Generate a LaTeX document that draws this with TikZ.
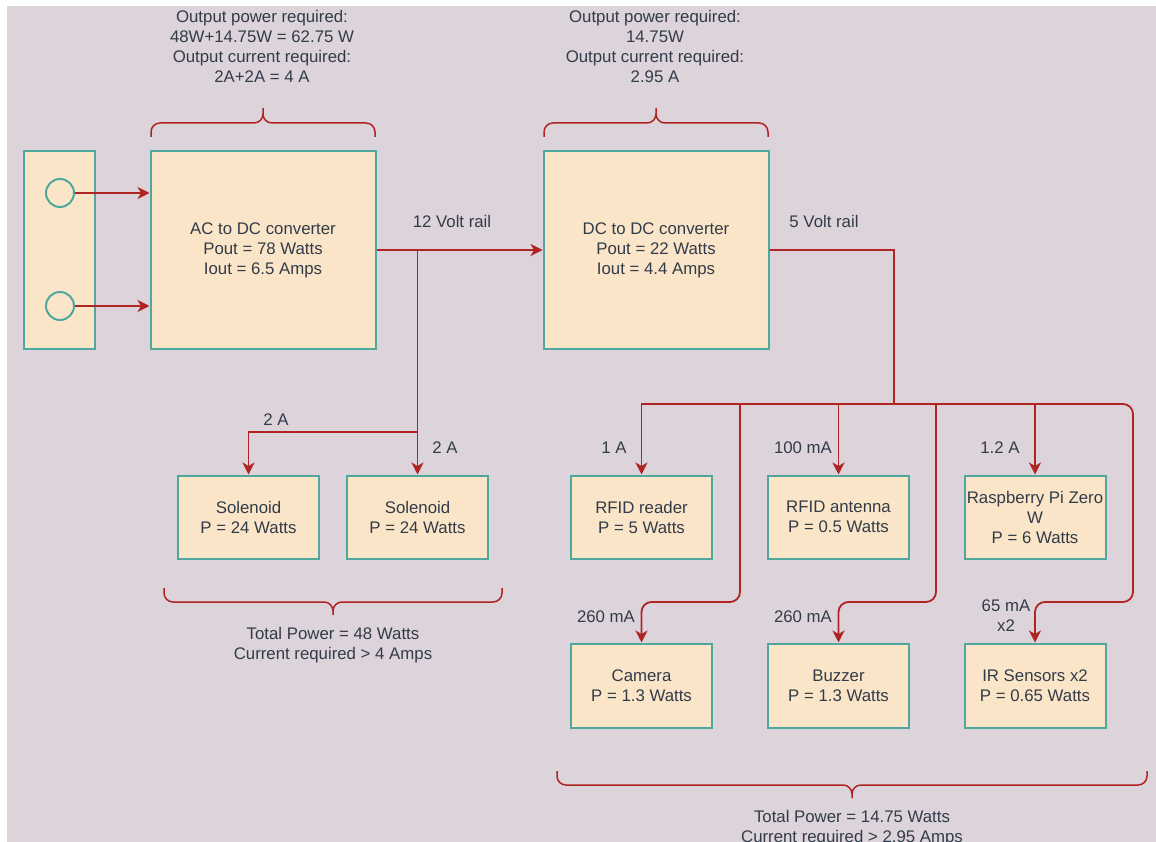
\documentclass[tikz,border=0pt]{standalone}
\usepackage{fontspec}
\setmainfont{Liberation Sans}
\usetikzlibrary{arrows.meta}

\begin{document}
\begin{tikzpicture}[x=1pt, y=-1pt,
        caja/.style={draw=verdeborde, line width=2pt, fill=crema, text=grisTexto,
            align=center, inner sep=0pt, minimum width=141pt, minimum height=83pt},
        borne/.style={circle, draw=verdeborde, line width=2pt, minimum size=28pt, inner sep=0pt},
        cable/.style={draw=rojocable, line width=1.8pt},
        flecha/.style={cable, -{Stealth[length=12pt, width=12pt, inset=3.5pt]}},
        llave/.style={draw=rojocable, line width=1.5pt, rounded corners=9pt},
        rotulo/.style={text=grisTexto, align=center, inner sep=0pt},
        every node/.append style={font={\fontsize{16.8}{20}\selectfont}}]
        % Definición de colores
        \definecolor{fondo}{RGB}{220, 211, 219}
        \definecolor{crema}{RGB}{251, 229, 200}
        \definecolor{verdeborde}{RGB}{78, 168, 158}
        \definecolor{rojocable}{RGB}{176, 36, 36}
        \definecolor{grisTexto}{RGB}{50, 60, 72}

        % Lienzo
        \useasboundingbox (0,0) rectangle (1156,842);
        \fill[white] (0,0) rectangle (1156,842);
        \fill[fondo] (7,6) rectangle (1156,842);

        % Entrada de red y convertidores
        \node[caja, minimum width=71pt, minimum height=197pt] (enchufe) at (59.5,250) {};
        \node[borne] (fase) at (60,193) {};
        \node[borne] (neutro) at (60,306) {};
        \node[caja, minimum width=225pt, minimum height=197pt] (acdc) at (263,250)
            {AC to DC converter\\Pout = 78 Watts\\Iout = 6.5 Amps};
        \node[caja, minimum width=225pt, minimum height=197pt] (dcdc) at (656,250)
            {DC to DC converter\\Pout = 22 Watts\\Iout = 4.4 Amps};

        % Cargas de 12 V
        \node[caja] (sol1) at (248.5,517) {Solenoid\\P = 24 Watts};
        \node[caja] (sol2) at (417.5,517) {Solenoid\\P = 24 Watts};

        % Cargas de 5 V
        \node[caja] (rfid) at (641.5,517) {RFID reader\\P = 5 Watts};
        \node[caja] (antena) at (838.5,517) {RFID antenna\\P = 0.5 Watts};
        \node[caja] (rpi) at (1035,517) {Raspberry Pi Zero\\W\\P = 6 Watts};
        \node[caja, minimum height=84pt] (camara) at (641.5,685.5) {Camera\\P = 1.3 Watts};
        \node[caja, minimum height=84pt] (zumbador) at (838.5,685.5) {Buzzer\\P = 1.3 Watts};
        \node[caja, minimum height=84pt] (ir) at (1035,685.5) {IR Sensors x2\\P = 0.65 Watts};

        % Conexiones de entrada y riel de 12 V
        \draw[flecha] (fase) -- (fase -| acdc.west);
        \draw[flecha] (neutro) -- (neutro -| acdc.west);
        \draw[flecha] (acdc) -- (dcdc);
        \coordinate (nodo12) at (sol2.north |- acdc.east);
        \coordinate (ramal) at (417.5,432);
        \draw[flecha] (nodo12) -- (sol2.north);
        \draw[flecha] (ramal) -| (sol1.north);

        % Riel de 5 V
        \coordinate (nodo5) at (894,404);
        \coordinate (derivCam) at (740,404);
        \coordinate (derivZum) at (936,404);
        \coordinate (esquina) at (1133,404);
        \draw[cable] (dcdc.east) -| (nodo5);
        \draw[flecha] (nodo5) -| (rfid.north);
        \draw[flecha] (antena.north |- nodo5) -- (antena.north);
        \draw[flecha] (rpi.north |- nodo5) -- (rpi.north);
        \draw[flecha, rounded corners=10pt] (derivCam) -- ++(0,198) -| (camara.north);
        \draw[flecha, rounded corners=10pt] (derivZum) -- ++(0,198) -| (zumbador.north);
        \draw[flecha, rounded corners=10pt] (nodo5) -- (esquina) -- ++(0,198) -| (ir.north);

        % Llaves
        \draw[llave] (151,137) -- (151,123) -- (263,123) -- (263,108)
            (375,137) -- (375,123) -- (263,123) -- (263,108);
        \draw[llave] (544,137) -- (544,123) -- (656,123) -- (656,108)
            (768,137) -- (768,123) -- (656,123) -- (656,108);
        \draw[llave] (164,588) -- (164,602) -- (333,602) -- (333,615)
            (502,588) -- (502,602) -- (333,602) -- (333,615);
        \draw[llave] (557,771) -- (557,785) -- (852,785) -- (852,798)
            (1147,771) -- (1147,785) -- (852,785) -- (852,798);

        % Rótulos
        \node[rotulo] (reqAC) at (262,46) {Output power required:\\48W+14.75W = 62.75 W\\Output current required:\\2A+2A = 4 A};
        \node[rotulo] (reqDC) at (655,46) {Output power required:\\14.75W\\Output current required:\\2.95 A};
        \node[rotulo, anchor=base] (riel12) at (452,228) {12 Volt rail};
        \node[rotulo, anchor=base] (riel5) at (824,228) {5 Volt rail};
        \node[rotulo, anchor=base] (iSol1) at (276,425) {2 A};
        \node[rotulo, anchor=base] (iSol2) at (445,453) {2 A};
        \node[rotulo, anchor=base] (iRfid) at (614,453) {1 A};
        \node[rotulo, anchor=base] (iAnt) at (803,453) {100 mA};
        \node[rotulo, anchor=base] (iRpi) at (1000,453) {1.2 A};
        \node[rotulo, anchor=base] (iCam) at (606,622) {260 mA};
        \node[rotulo, anchor=base] (iZum) at (803,622) {260 mA};
        \node[rotulo] (iIr) at (1006,616) {65 mA\\x2};
        \node[rotulo] (total12) at (333,645) {Total Power = 48 Watts\\Current required > 4 Amps};
        \node[rotulo] (total5) at (852,828) {Total Power = 14.75 Watts\\Current required > 2.95 Amps};

    \end{tikzpicture}
\end{document}
